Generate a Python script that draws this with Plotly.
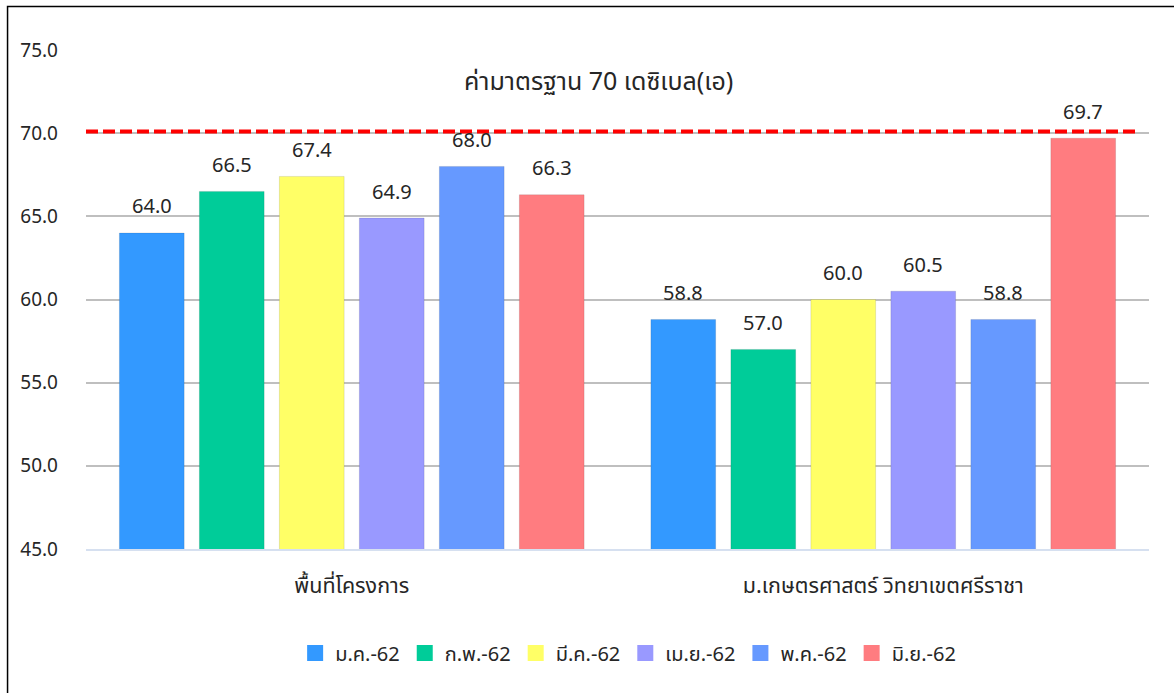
import plotly.graph_objects as go

# ---------------------------------------------------------------------------
# Data
# ---------------------------------------------------------------------------
SITES = ["พื้นที่โครงการ", "ม.เกษตรศาสตร์ วิทยาเขตศรีราชา"]
MONTHS = ["ม.ค.-62", "ก.พ.-62", "มี.ค.-62", "เม.ย.-62", "พ.ค.-62", "มิ.ย.-62"]
VALUES = [
    [64.0, 58.8],
    [66.5, 57.0],
    [67.4, 60.0],
    [64.9, 60.5],
    [68.0, 58.8],
    [66.3, 69.7],
]
STANDARD_LEVEL = 70.1
STANDARD_TEXT = "ค่ามาตรฐาน 70 เดซิเบล(เอ)"
Y_TICKS = [45, 50, 55, 60, 65, 70, 75]

COLORS = ["#3399FF", "#00CC99", "#FFFF66", "#9999FF", "#6699FF", "#FF7C80"]
FONT = "Noto Sans, Noto Sans Thai, sans-serif"
TEXT_COL = "#262626"
SLOT_PX = 80  # pixel pitch of bars inside a group

fig = go.Figure()

n = len(MONTHS)
for j, (name, vals, col) in enumerate(zip(MONTHS, VALUES, COLORS)):
    fig.add_trace(go.Bar(
        x=SITES,
        y=vals,
        name=name,
        showlegend=False,
        marker=dict(color=col, line=dict(color="rgba(0,0,0,0.10)", width=1)),
        hoverinfo="x+y+name",
    ))
    # legend entry with square swatch
    fig.add_trace(go.Scatter(
        x=[None], y=[None], mode="markers", name=name,
        marker=dict(symbol="square", size=16, color=col),
    ))
    # value labels above each bar
    for site, v in zip(SITES, vals):
        fig.add_annotation(
            x=site, y=v, xref="x", yref="y",
            text=f"{v:.1f}", showarrow=False,
            xshift=(j - (n - 1) / 2) * SLOT_PX, yshift=27,
            font=dict(size=20, color=TEXT_COL, family=FONT),
        )

# standard limit line
fig.add_shape(
    type="line", xref="paper", yref="y",
    x0=0, x1=0.9906, y0=STANDARD_LEVEL, y1=STANDARD_LEVEL,
    line=dict(color="#FF0000", width=4, dash="12px,5px"),
)
fig.add_annotation(
    xref="paper", yref="y", x=0.4817, y=73.2,
    text=STANDARD_TEXT, showarrow=False,
    font=dict(size=25, color=TEXT_COL, family=FONT),
)

# chart frame
fig.add_shape(
    type="rect", xref="paper", yref="paper",
    x0=-0.0738, x1=1.2, y0=-0.4, y1=1.0872,
    line=dict(color="black", width=1.5),
)

fig.update_layout(
    width=1174, height=693,
    paper_bgcolor="white", plot_bgcolor="white",
    margin=dict(l=86, r=25, t=50, b=144),
    barmode="group",
    bargap=0.097,
    bargroupgap=0.19,
    font=dict(family=FONT, color=TEXT_COL),
    showlegend=True,
    legend=dict(
        orientation="h", xanchor="center", x=0.51, yanchor="middle", y=-0.2084,
        font=dict(size=20, color=TEXT_COL, family=FONT),
        itemwidth=30, traceorder="normal",
    ),
    xaxis=dict(
        showgrid=False, showline=True, linecolor="#D6E0F0", linewidth=2,
        ticks="outside", ticklen=16, tickcolor="rgba(0,0,0,0)",
        tickfont=dict(size=21.5, color=TEXT_COL, family=FONT),
    ),
    yaxis=dict(
        range=[45, 75], tickvals=Y_TICKS, tickformat=".1f",
        showgrid=True, gridcolor="#BFBFBF", gridwidth=1.5,
        zeroline=False, showline=False,
        ticklabelstandoff=27,
        tickfont=dict(size=19, color=TEXT_COL, family=FONT),
    ),
)

fig.write_html(
    "out.html",
    config={"displayModeBar": False},
    post_script="document.body.style.margin='0';",
)
